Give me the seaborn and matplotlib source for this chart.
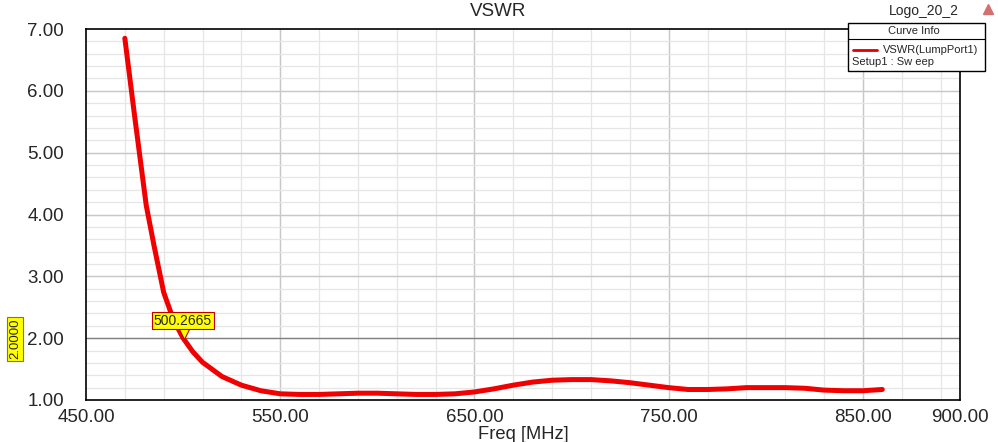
import matplotlib.pyplot as plt
import matplotlib.patches as mpatches
import matplotlib.lines as mlines
import seaborn as sns
import pandas as pd
import numpy as np
from matplotlib.ticker import MultipleLocator, FixedLocator

freq = [470, 475, 481, 485, 490, 495, 500, 505, 510, 520, 530, 540, 550, 560, 570,
        580, 590, 600, 610, 620, 630, 640, 650, 660, 670, 680, 690, 700, 710,
        720, 730, 740, 750, 760, 770, 780, 790, 800, 810, 820, 830, 840, 850, 860]
vswr = [6.85, 5.60, 4.15, 3.50, 2.74, 2.30, 2.00, 1.78, 1.61, 1.38, 1.24, 1.15, 1.10, 1.09, 1.09,
        1.10, 1.11, 1.11, 1.10, 1.09, 1.09, 1.10, 1.13, 1.18, 1.24, 1.29, 1.32, 1.33, 1.33,
        1.31, 1.28, 1.24, 1.20, 1.17, 1.17, 1.18, 1.20, 1.20, 1.20, 1.19, 1.16, 1.15, 1.15, 1.17]

x_labels = [450, 550, 650, 750, 850, 900]
marker_freq = 500.2665
marker_vswr = 2.0

df = pd.DataFrame({"freq": freq, "vswr": vswr})

sns.set_style("white")
plt.rcParams["font.family"] = ["Liberation Sans", "DejaVu Sans"]

W, H = 998, 442
fig = plt.figure(figsize=(W / 100, H / 100), dpi=100)
ax = fig.add_axes([86 / W, 1 - 400 / H, 874 / W, 371 / H])

ax.set_xlim(450, 900)
ax.set_ylim(1, 7)

# grid: light every 20 MHz / 0.2, darker every 100 MHz / 1.0
for xv in np.arange(470, 900, 20):
    ax.axvline(xv, color="#e6e6e6", lw=0.9, zorder=0)
for xv in [550, 650, 750, 850]:
    ax.axvline(xv, color="#c8c8c8", lw=1.0, zorder=0)
for yv in np.arange(1.2, 7.0, 0.2):
    ax.axhline(yv, color="#e6e6e6", lw=0.9, zorder=0)
for yv in [3, 4, 5, 6]:
    ax.axhline(yv, color="#c8c8c8", lw=1.0, zorder=0)
ax.axhline(marker_vswr, color="#808080", lw=1.0, zorder=1)

sns.lineplot(data=df, x="freq", y="vswr", color="#f00000", lw=3.6, ax=ax, zorder=3)

ax.xaxis.set_major_locator(FixedLocator(x_labels))
ax.xaxis.set_minor_locator(FixedLocator(np.arange(450, 901, 20)))
ax.set_xticklabels([f"{v:.2f}" for v in x_labels])
ax.yaxis.set_major_locator(MultipleLocator(1))
ax.yaxis.set_minor_locator(MultipleLocator(0.2))
ax.set_yticklabels([f"{v:.2f}" for v in ax.get_yticks()])
ax.tick_params(axis="y", which="major", labelsize=13.5, length=10, width=1,
               direction="out", color="black", pad=6)
ax.tick_params(axis="y", which="minor", length=4.3, width=1, direction="out", color="black")
ax.tick_params(axis="x", which="major", labelsize=13.5, length=3.6, width=1,
               direction="out", color="black", pad=3)
ax.tick_params(axis="x", which="minor", length=3.6, width=1, direction="out", color="black")
for s in ax.spines.values():
    s.set_color("black")
    s.set_linewidth(1.2)

ax.set_xlabel("Freq [MHz]", fontsize=13.2, labelpad=0)
ax.set_ylabel("")
fig.text(498 / W, 1 - 12 / H, "VSWR", ha="center", va="center", fontsize=13.5)

# marker on curve
ax.plot([marker_freq], [marker_vswr + 0.089], marker="v", ms=8, mfc="#ffff00",
        mec="#c00000", mew=0.8, zorder=5)
ax.annotate(f"{marker_freq:.4f}", xy=(marker_freq, marker_vswr), xytext=(-0.5, 12.6),
            textcoords="offset points", ha="center", va="center", fontsize=10,
            bbox=dict(boxstyle="square,pad=0.12", fc="#ffff00", ec="#c00000", lw=0.8),
            zorder=6)

# y-value marker at the left
fig.text(15 / W, 1 - 339 / H, f"{marker_vswr:.4f}", rotation=90, ha="center",
         va="center", fontsize=9.5,
         bbox=dict(boxstyle="square,pad=0.12", fc="#ffff00", ec="#808000", lw=0.8))

# curve info box
box = mpatches.Rectangle((848 / W, 1 - 71 / H), 137 / W, 48 / H, transform=fig.transFigure,
                         fc="white", ec="black", lw=1.0, zorder=10)
fig.add_artist(box)
fig.add_artist(mlines.Line2D([848 / W, 985 / W], [1 - 39 / H, 1 - 39 / H],
                             transform=fig.transFigure, color="black", lw=0.8, zorder=11))
fig.text(914 / W, 1 - 31 / H, "Curve Info", ha="center", va="center", fontsize=8, zorder=12)
fig.add_artist(mlines.Line2D([853 / W, 877 / W], [1 - 50 / H, 1 - 50 / H],
                             transform=fig.transFigure, color="#e00000", lw=2, zorder=11))
fig.text(883 / W, 1 - 50 / H, "VSWR(LumpPort1)", ha="left", va="center", fontsize=8, zorder=12)
fig.text(852 / W, 1 - 62 / H, "Setup1 : Sw eep", ha="left", va="center", fontsize=8, zorder=12)
fig.text(924 / W, 1 - 11 / H, "Logo_20_2", ha="center", va="center", fontsize=10)
fig.add_artist(mlines.Line2D([988 / W], [1 - 9 / H], transform=fig.transFigure, marker="^",
                             ms=7, color="#d07070", lw=0))

fig.savefig("out.png", dpi=100)
